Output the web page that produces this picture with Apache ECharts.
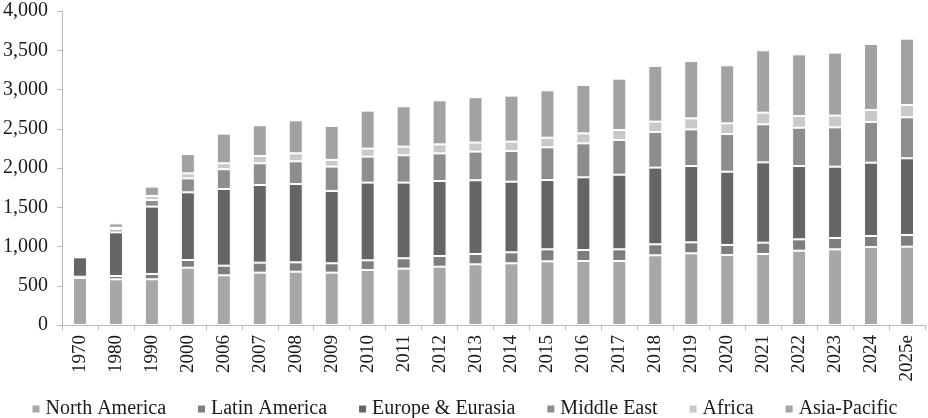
<!DOCTYPE html>
<html>
<head>
<meta charset="utf-8">
<script src="https://cdn.jsdelivr.net/npm/echarts@6/dist/echarts.min.js"></script>
<style>
	html, body { margin: 0; padding: 0; background: #fff; }
	#main { width: 928px; height: 418px; }
</style>
</head>
<body>
<div id="main"></div>
<script>
var years = ['1970', '1980', '1990', '2000', '2006', '2007', '2008', '2009', '2010', '2011', '2012', '2013',
	'2014', '2015', '2016', '2017', '2018', '2019', '2020', '2021', '2022', '2023', '2024', '2025e'];

var northAmerica = [600, 582, 582, 730, 633, 667, 679, 667, 701, 718, 743, 773, 786, 811, 815, 815, 888, 913, 892, 905, 947, 964, 994, 998];
var latinAmerica = [15, 42, 68, 98, 123, 127, 119, 119, 123, 132, 136, 132, 140, 153, 140, 149, 140, 140, 127, 144, 144, 144, 140, 149];
var europeEurasia = [247, 556, 858, 862, 977, 990, 998, 922, 990, 964, 955, 939, 900, 883, 926, 951, 977, 972, 934, 1023, 934, 909, 934, 977];
var middleEast = [0, 38, 85, 178, 251, 276, 289, 310, 331, 348, 352, 365, 391, 416, 433, 442, 454, 467, 480, 484, 488, 501, 518, 522];
var africa = [0, 21, 51, 64, 76, 93, 102, 85, 102, 110, 115, 115, 119, 123, 127, 127, 132, 140, 136, 149, 149, 149, 153, 157];
var asiaPacific = [0, 55, 119, 246, 378, 391, 420, 433, 484, 514, 561, 578, 586, 603, 616, 654, 709, 730, 739, 794, 786, 803, 841, 845];

var seriesNames = ['North America', 'Latin America', 'Europe & Eurasia', 'Middle East', 'Africa', 'Asia-Pacific'];
var seriesColors = ['#a7a7a9', '#7e7e80', '#656567', '#8d8d8f', '#c9c9cb', '#a2a2a4'];
var seriesData = [northAmerica, latinAmerica, europeEurasia, middleEast, africa, asiaPacific];

var font = '"Liberation Serif", "Times New Roman", serif';

var series = [];
for (var i = 0; i < seriesNames.length; i++) {
	series.push({
		name: seriesNames[i],
		type: 'bar',
		stack: 'total',
		barWidth: 14,
		data: seriesData[i],
		itemStyle: {
			color: seriesColors[i],
			borderColor: '#ffffff',
			borderWidth: 1
		}
	});
}

var myChart = echarts.init(document.getElementById('main'));
var option = {
	animation: false,
	textStyle: { fontFamily: font },
	grid: {
		left: 62,
		right: 3,
		top: 11,
		bottom: 93
	},
	legend: {
		data: seriesNames,
		left: 'center',
		top: 394,
		itemWidth: 9,
		itemHeight: 9,
		itemGap: 30,
		icon: 'rect',
		textStyle: {
			fontFamily: font,
			fontSize: 20,
			color: '#1a1a1a'
		}
	},
	xAxis: [{
		type: 'category',
		data: years,
		axisLine: { lineStyle: { color: '#bcbcbc', width: 1 } },
		axisTick: { show: true, length: 5, lineStyle: { color: '#bcbcbc' } },
		axisLabel: {
			rotate: 90,
			margin: 10,
			fontFamily: font,
			fontSize: 19,
			color: '#1a1a1a'
		}
	}],
	yAxis: [{
		type: 'value',
		min: 0,
		max: 4000,
		interval: 500,
		splitLine: { show: false },
		axisLine: { show: true, lineStyle: { color: '#bcbcbc', width: 1 } },
		axisTick: { show: true, length: 5, lineStyle: { color: '#bcbcbc' } },
		axisLabel: {
			margin: 14,
			fontFamily: font,
			fontSize: 20,
			color: '#1a1a1a',
			formatter: function(v) {
				return v.toLocaleString('en-US');
			}
		}
	}],
	series: series
};
myChart.setOption(option);
</script>
</body>
</html>
